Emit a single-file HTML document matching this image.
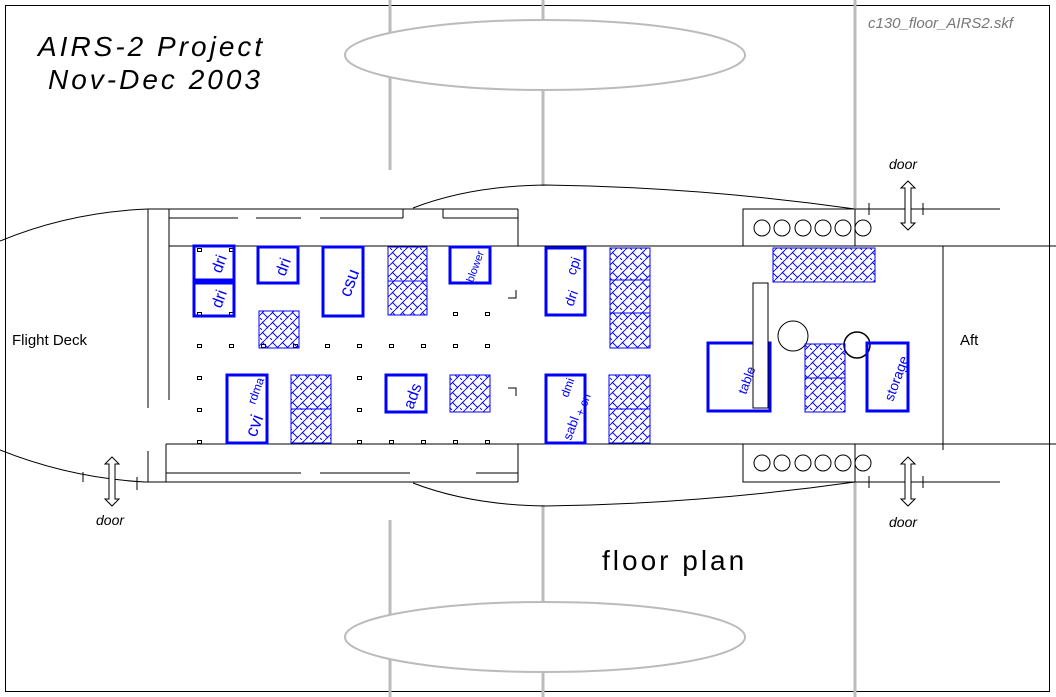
<!DOCTYPE html>
<html><head><meta charset="utf-8"><style>html,body{margin:0;padding:0;background:#fff}svg{display:block}</style></head>
<body>
<svg width="1056" height="697" viewBox="0 0 1056 697" xmlns="http://www.w3.org/2000/svg">
<defs>
<pattern id="h" width="10" height="10" patternUnits="userSpaceOnUse">
<path d="M0 5 L5 0 M5 10 L10 5 M2 2 L8 8 M0 8 L2 10" stroke="#0000ff" stroke-width="0.9" fill="none"/>
</pattern>
<path id="arr" d="M0 0 L7 7 H3 V42 H7 L0 49 L-7 42 H-3 V7 H-7 Z" fill="#fff" stroke="#000" stroke-width="1"/>
</defs>
<rect x="5.5" y="5.5" width="1044" height="686" fill="none" stroke="#000"/>
<g stroke="#bbb" stroke-width="3" fill="none">
<line x1="390" y1="0" x2="390" y2="170"/><line x1="543" y1="0" x2="543" y2="186"/><line x1="855" y1="0" x2="855" y2="208"/>
<line x1="390" y1="520" x2="390" y2="697"/><line x1="543" y1="505" x2="543" y2="697"/><line x1="855" y1="482" x2="855" y2="697"/>
</g>
<g stroke="#bbb" stroke-width="2" fill="none">
<ellipse cx="545" cy="55" rx="200" ry="35" fill="#fff"/>
<ellipse cx="545" cy="637" rx="200" ry="35" fill="#fff"/>
</g>
<g stroke="#000" stroke-width="1" fill="none">
<path d="M0 241 Q70 212 148 209"/>
<path d="M0 450 Q70 478 145 482"/>
<line x1="83" y1="472" x2="83" y2="482"/><line x1="137" y1="477" x2="137" y2="490"/>
<line x1="148" y1="209" x2="148" y2="408"/><line x1="148" y1="451" x2="148" y2="482"/>
<line x1="169" y1="209" x2="169" y2="400"/><line x1="166" y1="444" x2="166" y2="482"/>
<line x1="148" y1="209" x2="518" y2="209"/>
<line x1="518" y1="209" x2="518" y2="246"/>
<path d="M169 218 H238 M256 218 H301 M320 218 H403 M443 218 H518" />
<line x1="403" y1="209" x2="403" y2="218"/><line x1="443" y1="209" x2="443" y2="218"/>
<line x1="169" y1="246" x2="1056" y2="246"/>
<line x1="166" y1="444" x2="1056" y2="444"/>
<line x1="145" y1="482" x2="518" y2="482"/>
<line x1="518" y1="444" x2="518" y2="482"/>
<path d="M166 473 H301 M320 473 H410 M476 473 H518"/>
<path d="M413 208 Q470 186 545 185 Q700 187 855 209"/>
<path d="M413 483 Q470 505 545 506 Q700 504 855 482"/>
<rect x="743" y="209" width="112" height="37"/>
<rect x="743" y="444" width="112" height="38"/>
<path d="M855 209 H1000 M855 482 H1000"/>
<path d="M869 203 V215 M923 203 V215 M869 476 V488 M923 476 V488"/>
<line x1="943" y1="246" x2="943" y2="450"/>
<path d="M508 298 H516 V290 M508 388 H516 V396"/>
<circle cx="762" cy="228" r="8"/><circle cx="782" cy="228" r="8"/><circle cx="803" cy="228" r="8"/><circle cx="823" cy="228" r="8"/><circle cx="843" cy="228" r="8"/><circle cx="863" cy="228" r="8"/>
<circle cx="762" cy="463" r="8"/><circle cx="782" cy="463" r="8"/><circle cx="803" cy="463" r="8"/><circle cx="823" cy="463" r="8"/><circle cx="843" cy="463" r="8"/><circle cx="863" cy="463" r="8"/>
<circle cx="793" cy="336" r="15"/><circle cx="857" cy="345" r="13" stroke-width="1.5"/>
</g>
<use href="#arr" x="908" y="181"/><use href="#arr" x="908" y="457"/><use href="#arr" x="112" y="457"/>
<g fill="none" stroke="#000" stroke-width="1">
<rect x="197.5" y="248.5" width="4" height="3"/><rect x="229.5" y="248.5" width="4" height="3"/>
<rect x="197.5" y="312.5" width="4" height="3"/><rect x="229.5" y="312.5" width="4" height="3"/>
<rect x="197.5" y="344.5" width="4" height="3"/><rect x="229.5" y="344.5" width="4" height="3"/><rect x="261.5" y="344.5" width="4" height="3"/><rect x="293.5" y="344.5" width="4" height="3"/><rect x="325.5" y="344.5" width="4" height="3"/><rect x="357.5" y="344.5" width="4" height="3"/><rect x="389.5" y="344.5" width="4" height="3"/><rect x="421.5" y="344.5" width="4" height="3"/><rect x="453.5" y="344.5" width="4" height="3"/><rect x="485.5" y="344.5" width="4" height="3"/>
<rect x="197.5" y="376.5" width="4" height="3"/><rect x="357.5" y="376.5" width="4" height="3"/>
<rect x="197.5" y="408.5" width="4" height="3"/><rect x="357.5" y="408.5" width="4" height="3"/>
<rect x="197.5" y="440.5" width="4" height="3"/><rect x="357.5" y="440.5" width="4" height="3"/><rect x="389.5" y="440.5" width="4" height="3"/><rect x="421.5" y="440.5" width="4" height="3"/><rect x="453.5" y="440.5" width="4" height="3"/><rect x="485.5" y="440.5" width="4" height="3"/>
<rect x="453.5" y="312.5" width="4" height="3"/><rect x="485.5" y="312.5" width="4" height="3"/>
</g>
<g fill="url(#h)" stroke="#0000ff" stroke-width="1">
<rect x="388" y="247" width="39" height="34"/><rect x="388" y="281" width="39" height="34"/>
<rect x="259" y="311" width="40" height="37"/>
<rect x="291" y="375" width="40" height="34"/><rect x="291" y="409" width="40" height="34"/>
<rect x="450" y="375" width="40" height="37"/>
<rect x="610" y="248" width="40" height="32"/><rect x="610" y="280" width="40" height="33"/><rect x="610" y="313" width="40" height="35"/>
<rect x="609" y="375" width="41" height="34"/><rect x="609" y="409" width="41" height="34"/>
<rect x="773" y="248" width="102" height="34"/>
<rect x="805" y="344" width="40" height="34"/><rect x="805" y="378" width="40" height="34"/>
</g>
<g fill="none" stroke="#0000ff" stroke-width="3">
<rect x="194" y="246" width="40" height="34"/><rect x="194" y="283" width="40" height="33"/>
<rect x="258" y="247" width="40" height="36"/><rect x="323" y="247" width="40" height="69"/>
<rect x="450" y="247" width="40" height="36"/>
<rect x="227" y="375" width="40" height="68"/><rect x="386" y="375" width="40" height="37"/>
<rect x="546" y="248" width="39" height="67"/><rect x="546" y="375" width="39" height="68"/>
<rect x="708" y="343" width="62" height="68"/><rect x="867" y="343" width="41" height="68"/>
</g>
<rect x="753" y="283" width="15" height="125" fill="#fff" stroke="#000"/>
<g fill="#0000ff" font-family="Liberation Sans, sans-serif">
<text transform="translate(221,274) rotate(-70)" font-size="16">dri</text>
<text transform="translate(221,309) rotate(-70)" font-size="16">dri</text>
<text transform="translate(285,277) rotate(-70)" font-size="16">dri</text>
<text transform="translate(350,298) rotate(-70)" font-size="18">csu</text>
<text transform="translate(473,283) rotate(-70)" font-size="11">blower</text>
<text transform="translate(255,405) rotate(-70)" font-size="12">rdma</text>
<text transform="translate(256,438) rotate(-70)" font-size="18">cvi</text>
<text transform="translate(413,410) rotate(-70)" font-size="16">ads</text>
<text transform="translate(575,276) rotate(-70)" font-size="14">cpi</text>
<text transform="translate(573,307) rotate(-70)" font-size="14">dri</text>
<text transform="translate(568,398) rotate(-70)" font-size="12">dmi</text>
<text transform="translate(583,417) rotate(-70)" font-size="12">+ cn</text>
<text transform="translate(571,441) rotate(-70)" font-size="13">sabl</text>
<text transform="translate(746,395) rotate(-70)" font-size="13">table</text>
<text transform="translate(893,402) rotate(-70)" font-size="14">storage</text>
</g>
<g font-family="Liberation Sans, sans-serif" fill="#000">
<text x="12" y="345" font-size="15">Flight Deck</text>
<text x="960" y="345" font-size="15">Aft</text>
<text x="96" y="525" font-size="14" font-style="italic">door</text>
<text x="889" y="169" font-size="14" font-style="italic">door</text>
<text x="889" y="527" font-size="14" font-style="italic">door</text>
<text x="868" y="28" font-size="15" font-style="italic" fill="#777">c130_floor_AIRS2.skf</text>
<text x="38" y="56" font-size="28" font-style="italic" letter-spacing="3">AIRS-2 Project</text>
<text x="48" y="89" font-size="28" font-style="italic" letter-spacing="3">Nov-Dec 2003</text>
<text x="602" y="570" font-size="28" letter-spacing="3">floor plan</text>
</g>
</svg>
</body></html>
